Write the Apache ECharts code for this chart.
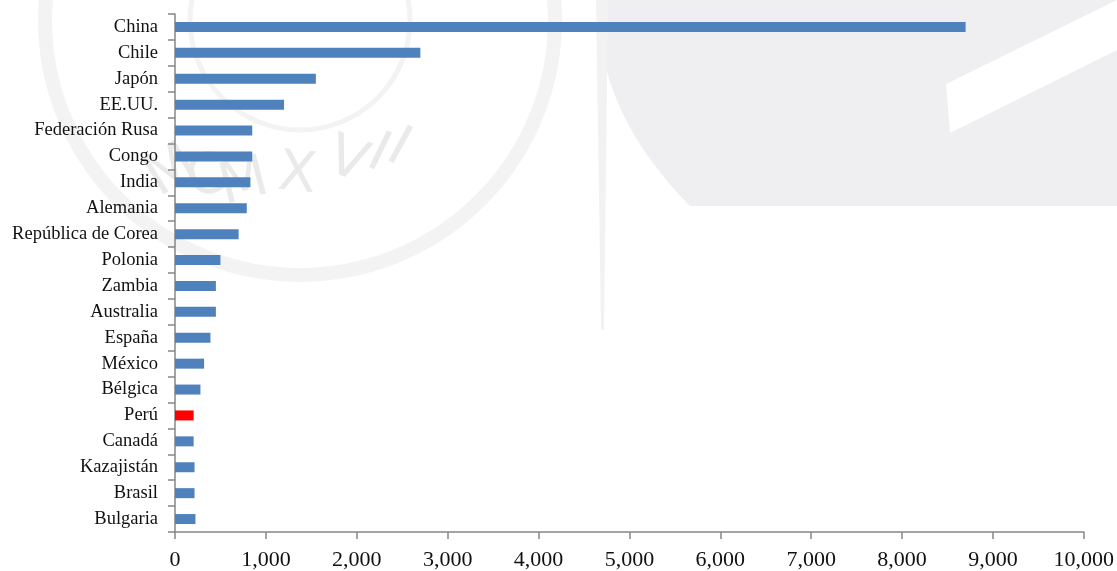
<!DOCTYPE html>
<html>
<head>
<meta charset="utf-8">
<script src="https://cdn.jsdelivr.net/npm/echarts@6/dist/echarts.min.js"></script>
<style>
  html, body { margin: 0; padding: 0; background: #ffffff; }
  #chart { width: 1117px; height: 571px; }
</style>
</head>
<body>
<div id="chart"></div>
<script>
// Countries, top to bottom
const countries = [
  'China', 'Chile', 'Japón', 'EE.UU.', 'Federación Rusa', 'Congo', 'India',
  'Alemania', 'República de Corea', 'Polonia', 'Zambia', 'Australia', 'España',
  'México', 'Bélgica', 'Perú', 'Canadá', 'Kazajistán', 'Brasil', 'Bulgaria'
];
const values = [
  8700, 2700, 1550, 1200, 850, 850, 830,
  790, 700, 500, 450, 450, 390,
  320, 280, 205, 205, 215, 215, 225
];
const highlighted = ['Perú'];
const xTicks = [0, 1000, 2000, 3000, 4000, 5000, 6000, 7000, 8000, 9000, 10000];

const BLUE = '#4f81bd';
const RED = '#ff0000';
const AXIS = '#868686';
const FONT = '"Liberation Serif", "Times New Roman", serif';

const chart = echarts.init(document.getElementById('chart'), null, { renderer: 'canvas' });

function fmt(v) {
  return String(v).replace(/\B(?=(\d{3})+(?!\d))/g, ',');
}

// Faint emblem in the background: rings and the lettering along its lower arc
const sealCx = 300, sealCy = 20;
const sealText = [
  ['M', 172, 172, 0.55], ['C', 208, 179, 0.40], ['M', 244, 184, 0.25],
  ['X', 297, 176, -0.10], ['V', 347, 162, -0.35], ['I', 378, 155, -0.45], ['I', 398, 149, -0.50]
];
const seal = sealText.map(([ch, x, y, rot]) => ({
  type: 'text', z: -9, silent: true,
  x: x, y: y, rotation: rot,
  style: {
    text: ch,
    fill: '#eaeaea',
    fontSize: 56,
    fontFamily: 'DejaVu Sans',
    fontWeight: 'normal',
    align: 'center',
    verticalAlign: 'middle'
  }
}));

// Right-hand panel: curved left edge, flat bottom, with a light diagonal band
const panel = [];
for (let t = 0; t <= 1.0001; t += 0.05) {
  const y = 206 * t;
  const x = 598 + 92 * Math.pow(t, 2.2);
  panel.push([x, y]);
}
panel.push([1117, 206], [1117, 0]);
const band = [[946, 84], [1117, 0], [1117, 50], [950, 133]];

chart.setOption({
  animation: false,
  backgroundColor: '#ffffff',
  graphic: [
    { type: 'circle', z: -10, silent: true, shape: { cx: sealCx, cy: sealCy, r: 255 }, style: { fill: 'none', stroke: '#f3f3f3', lineWidth: 14 } },
    { type: 'circle', z: -10, silent: true, shape: { cx: sealCx, cy: sealCy, r: 110 }, style: { fill: 'none', stroke: '#f3f3f3', lineWidth: 5 } },
    { type: 'polygon', z: -10, silent: true, shape: { points: panel }, style: { fill: '#efeff1' } },
    { type: 'polygon', z: -9, silent: true, shape: { points: band }, style: { fill: '#ffffff' } },
    { type: 'polygon', z: -10, silent: true, shape: { points: [[596, 0], [608, 0], [604, 330], [601, 330]] }, style: { fill: '#f2f2f2' } }
  ].concat(seal),
  grid: { left: 175, right: 32, top: 14, bottom: 39, containLabel: false },
  xAxis: {
    type: 'value',
    min: 0,
    max: 10000,
    interval: 1000,
    splitLine: { show: false },
    axisLine: { show: true, lineStyle: { color: AXIS, width: 1.5 } },
    axisTick: { show: true, length: 7, inside: false, lineStyle: { color: AXIS, width: 1.5 } },
    axisLabel: {
      margin: 17,
      color: '#111111',
      fontFamily: FONT,
      fontSize: 22,
      formatter: v => (xTicks.indexOf(v) >= 0 ? fmt(v) : '')
    }
  },
  yAxis: {
    type: 'category',
    data: countries,
    inverse: true,
    axisLine: { show: true, lineStyle: { color: AXIS, width: 1.5 } },
    axisTick: { show: true, length: 7, alignWithLabel: false, lineStyle: { color: AXIS, width: 1.5 } },
    axisLabel: {
      margin: 17,
      color: '#111111',
      fontFamily: FONT,
      fontSize: 18.5
    }
  },
  series: [{
    type: 'bar',
    barWidth: 10,
    data: values.map((v, i) => ({
      value: v,
      itemStyle: { color: highlighted.indexOf(countries[i]) >= 0 ? RED : BLUE }
    }))
  }]
});
</script>
</body>
</html>
